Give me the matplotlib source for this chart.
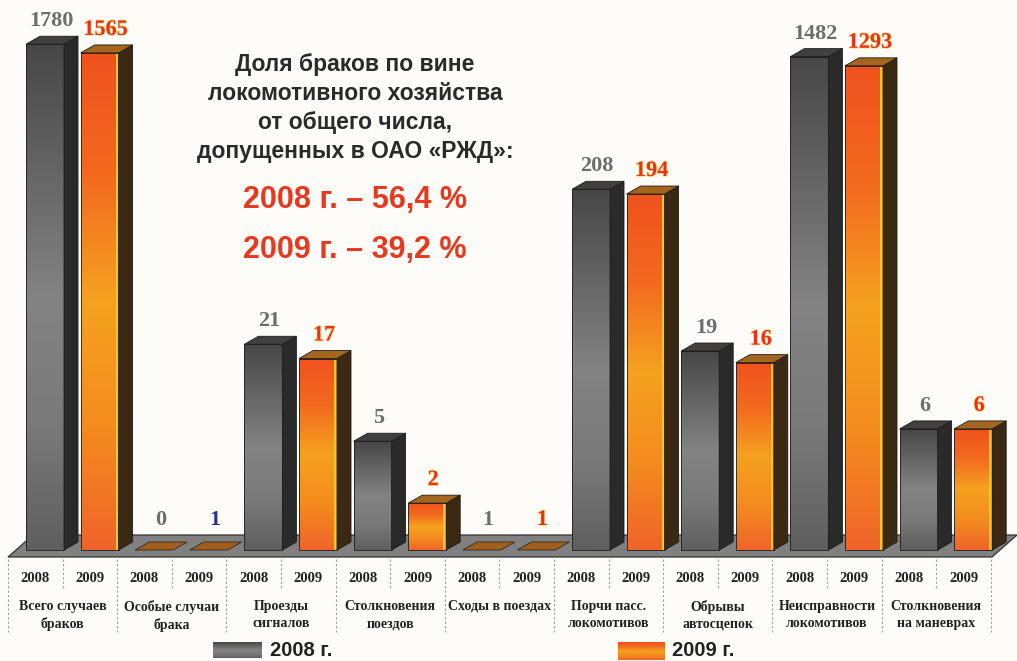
import numpy as np
import matplotlib.pyplot as plt
import matplotlib.patheffects as pe
from matplotlib.colors import LinearSegmentedColormap
from matplotlib.patches import Polygon, Rectangle
from matplotlib.transforms import Affine2D, IdentityTransform

categories = ['Всего случаев\nбраков', 'Особые случаи\nбрака', 'Проезды\nсигналов',
              'Столкновения\nпоездов', 'Сходы в поездах', 'Порчи пасс.\nлокомотивов',
              'Обрывы\nавтосцепок', 'Неисправности\nлокомотивов', 'Столкновения\nна маневрах']
years = ['2008', '2009']
cases_2008 = [1780, 0, 21, 5, 1, 208, 19, 1482, 6]
cases_2009 = [1565, 1, 17, 2, 1, 194, 16, 1293, 6]
share = ['56,4', '39,2']

W, H = 1017, 661
BASE = 550            # floor line, px from top
PX_PER_DEC = 155.6    # log scale: px per decade
COL0, COLW = 8, 54.6  # table columns
DX, DY = 14, 8        # depth of side / top faces

SERIF = 'Liberation Serif'
SANS = 'Liberation Sans'

fig = plt.figure(figsize=(W / 100, H / 100), dpi=100, facecolor='#fdfcf8')
ax = fig.add_axes([0, 0, 1, 1])
ax.set_yscale('log')
ax.set_xlim(-COL0 / COLW - 0.5, (W - COL0) / COLW - 0.5)
ax.set_ylim(10 ** (-(H - BASE) / PX_PER_DEC), 10 ** (BASE / PX_PER_DEC))
ax.axis('off')

px = Affine2D().scale(1, -1).translate(0, H)   # picture px (y down) -> display
ident = IdentityTransform()


def shade(x0, y0, x1, y1, cmap, z):
    ax.imshow(np.linspace(0, 1, 256)[:, None], cmap=cmap, extent=(x0, x1, y0, y1),
              transform=ident, aspect='auto', interpolation='bilinear', zorder=z)


dark_cmap = LinearSegmentedColormap.from_list('dk', ['#474747', '#656565', '#838383', '#7a7a7a', '#5f5f5f'])
orange_cmap = LinearSegmentedColormap.from_list('or', ['#f0521e', '#f36a1f', '#f5a21f', '#f48c1e', '#f0642a'])

series = [
    dict(vals=cases_2008, cmap=dark_cmap, side='#2a2a2a', top='#404040', label='#6d6d6d'),
    dict(vals=cases_2009, cmap=orange_cmap, side='#3c2914', top='#a4651e', label='#e8321e'),
]

# floor slab
ax.add_patch(Polygon([(8, 557), (992, 557), (1017, 535), (33, 535)], closed=True,
                     transform=px, facecolor='#808080', edgecolor='#333333', lw=0.9, zorder=1))

xs = np.arange(len(categories)) * 2
width = 38 / COLW
for s, st in enumerate(series):
    vals = np.array(st['vals'])
    xc = xs + s + 9.7 / COLW
    bars = ax.bar(xc, np.maximum(vals, 1) - 1, bottom=1, width=width, fill=False,
                  edgecolor='#1c1c1c', linewidth=0.6, zorder=3)
    for i, (b, v) in enumerate(zip(bars, vals)):
        (x0, y0), (x1, y1) = ax.transData.transform(
            [(b.get_x(), 1), (b.get_x() + b.get_width(), max(v, 1))])
        if v <= 1:
            b.set_visible(False)
            ax.add_patch(Polygon([(x0, y0), (x1, y0), (x1 + DX, y0 + DY), (x0 + DX, y0 + DY)],
                                 transform=ident, facecolor='#a45e1c', edgecolor='#2a2a2a',
                                 lw=0.6, zorder=2))
            ly = y0 + 30
        else:
            shade(x0, y0, x1, y1, st['cmap'], 2)
            if s == 1:
                ax.add_patch(Rectangle((x1 - 3, y0), 3, y1 - y0, transform=ident,
                                       facecolor='#f7c424', lw=0, zorder=2.5))
            ax.add_patch(Polygon([(x1, y0), (x1 + DX, y0 + DY), (x1 + DX, y1 + DY), (x1, y1)],
                                 transform=ident, facecolor=st['side'], edgecolor='#1c1c1c',
                                 lw=0.6, zorder=3))
            ax.add_patch(Polygon([(x0, y1), (x1, y1), (x1 + DX, y1 + DY), (x0 + DX, y1 + DY)],
                                 transform=ident, facecolor=st['top'], edgecolor='#1c1c1c',
                                 lw=0.6, zorder=3))
            ly = y1 + 23
        color = '#27358e' if (s == 1 and i == 1) else st['label']
        effects = [pe.withStroke(linewidth=1.2, foreground='#f9df90')] if color == '#e8321e' else None
        ax.text((x0 + x1) / 2 + 6, ly, str(v), transform=ident, ha='center', va='center',
                fontsize=16, fontweight='bold', family=SERIF, color=color,
                path_effects=effects, zorder=4)

# table under the floor
for k in range(2 * len(categories) + 1):
    x = COL0 + COLW * k
    ax.plot([x, x], [559, 632 if k % 2 == 0 else 590], transform=px,
            color='#9a9a9a', lw=0.8, ls=(0, (2, 2)), zorder=1)
for k in range(2 * len(categories)):
    ax.text(COL0 + COLW * (k + 0.5), 578, years[k % 2], transform=px, ha='center',
            va='center', fontsize=10.5, fontweight='bold', family=SERIF, color='#222222')
for g, name in enumerate(categories):
    ax.text(COL0 + COLW * (2 * g + 1), 600, name, transform=px, ha='center', va='top',
            fontsize=10, fontweight='bold', family=SERIF, color='#222222', linespacing=1.4)

# legend
shade(213, H - 658, 262, H - 642, dark_cmap, 2)
shade(618, H - 660, 665, H - 642, orange_cmap, 2)
ax.text(270, 650, years[0] + ' г.', transform=px, va='center', fontsize=14.5,
        fontweight='bold', family=SANS, color='#222222')
ax.text(672, 650, years[1] + ' г.', transform=px, va='center', fontsize=14.5,
        fontweight='bold', family=SANS, color='#222222')

# heading
heading = ['Доля браков по вине', 'локомотивного хозяйства', 'от общего числа,',
           'допущенных в ОАО «РЖД»:']
for j, line in enumerate(heading):
    ax.text(355, 65 + 28.7 * j, line, transform=px, ha='center', va='center',
            fontsize=16.5, fontweight='bold', family=SANS, color='#2a2a2a')
for j, (yr, pct) in enumerate(zip(years, share)):
    ax.text(355, 200 + 50 * j, f'{yr} г. – {pct} %', transform=px, ha='center', va='center',
            fontsize=22, fontweight='bold', family=SANS, color='#e8381e')

fig.savefig('out.png', dpi=100, facecolor=fig.get_facecolor())
